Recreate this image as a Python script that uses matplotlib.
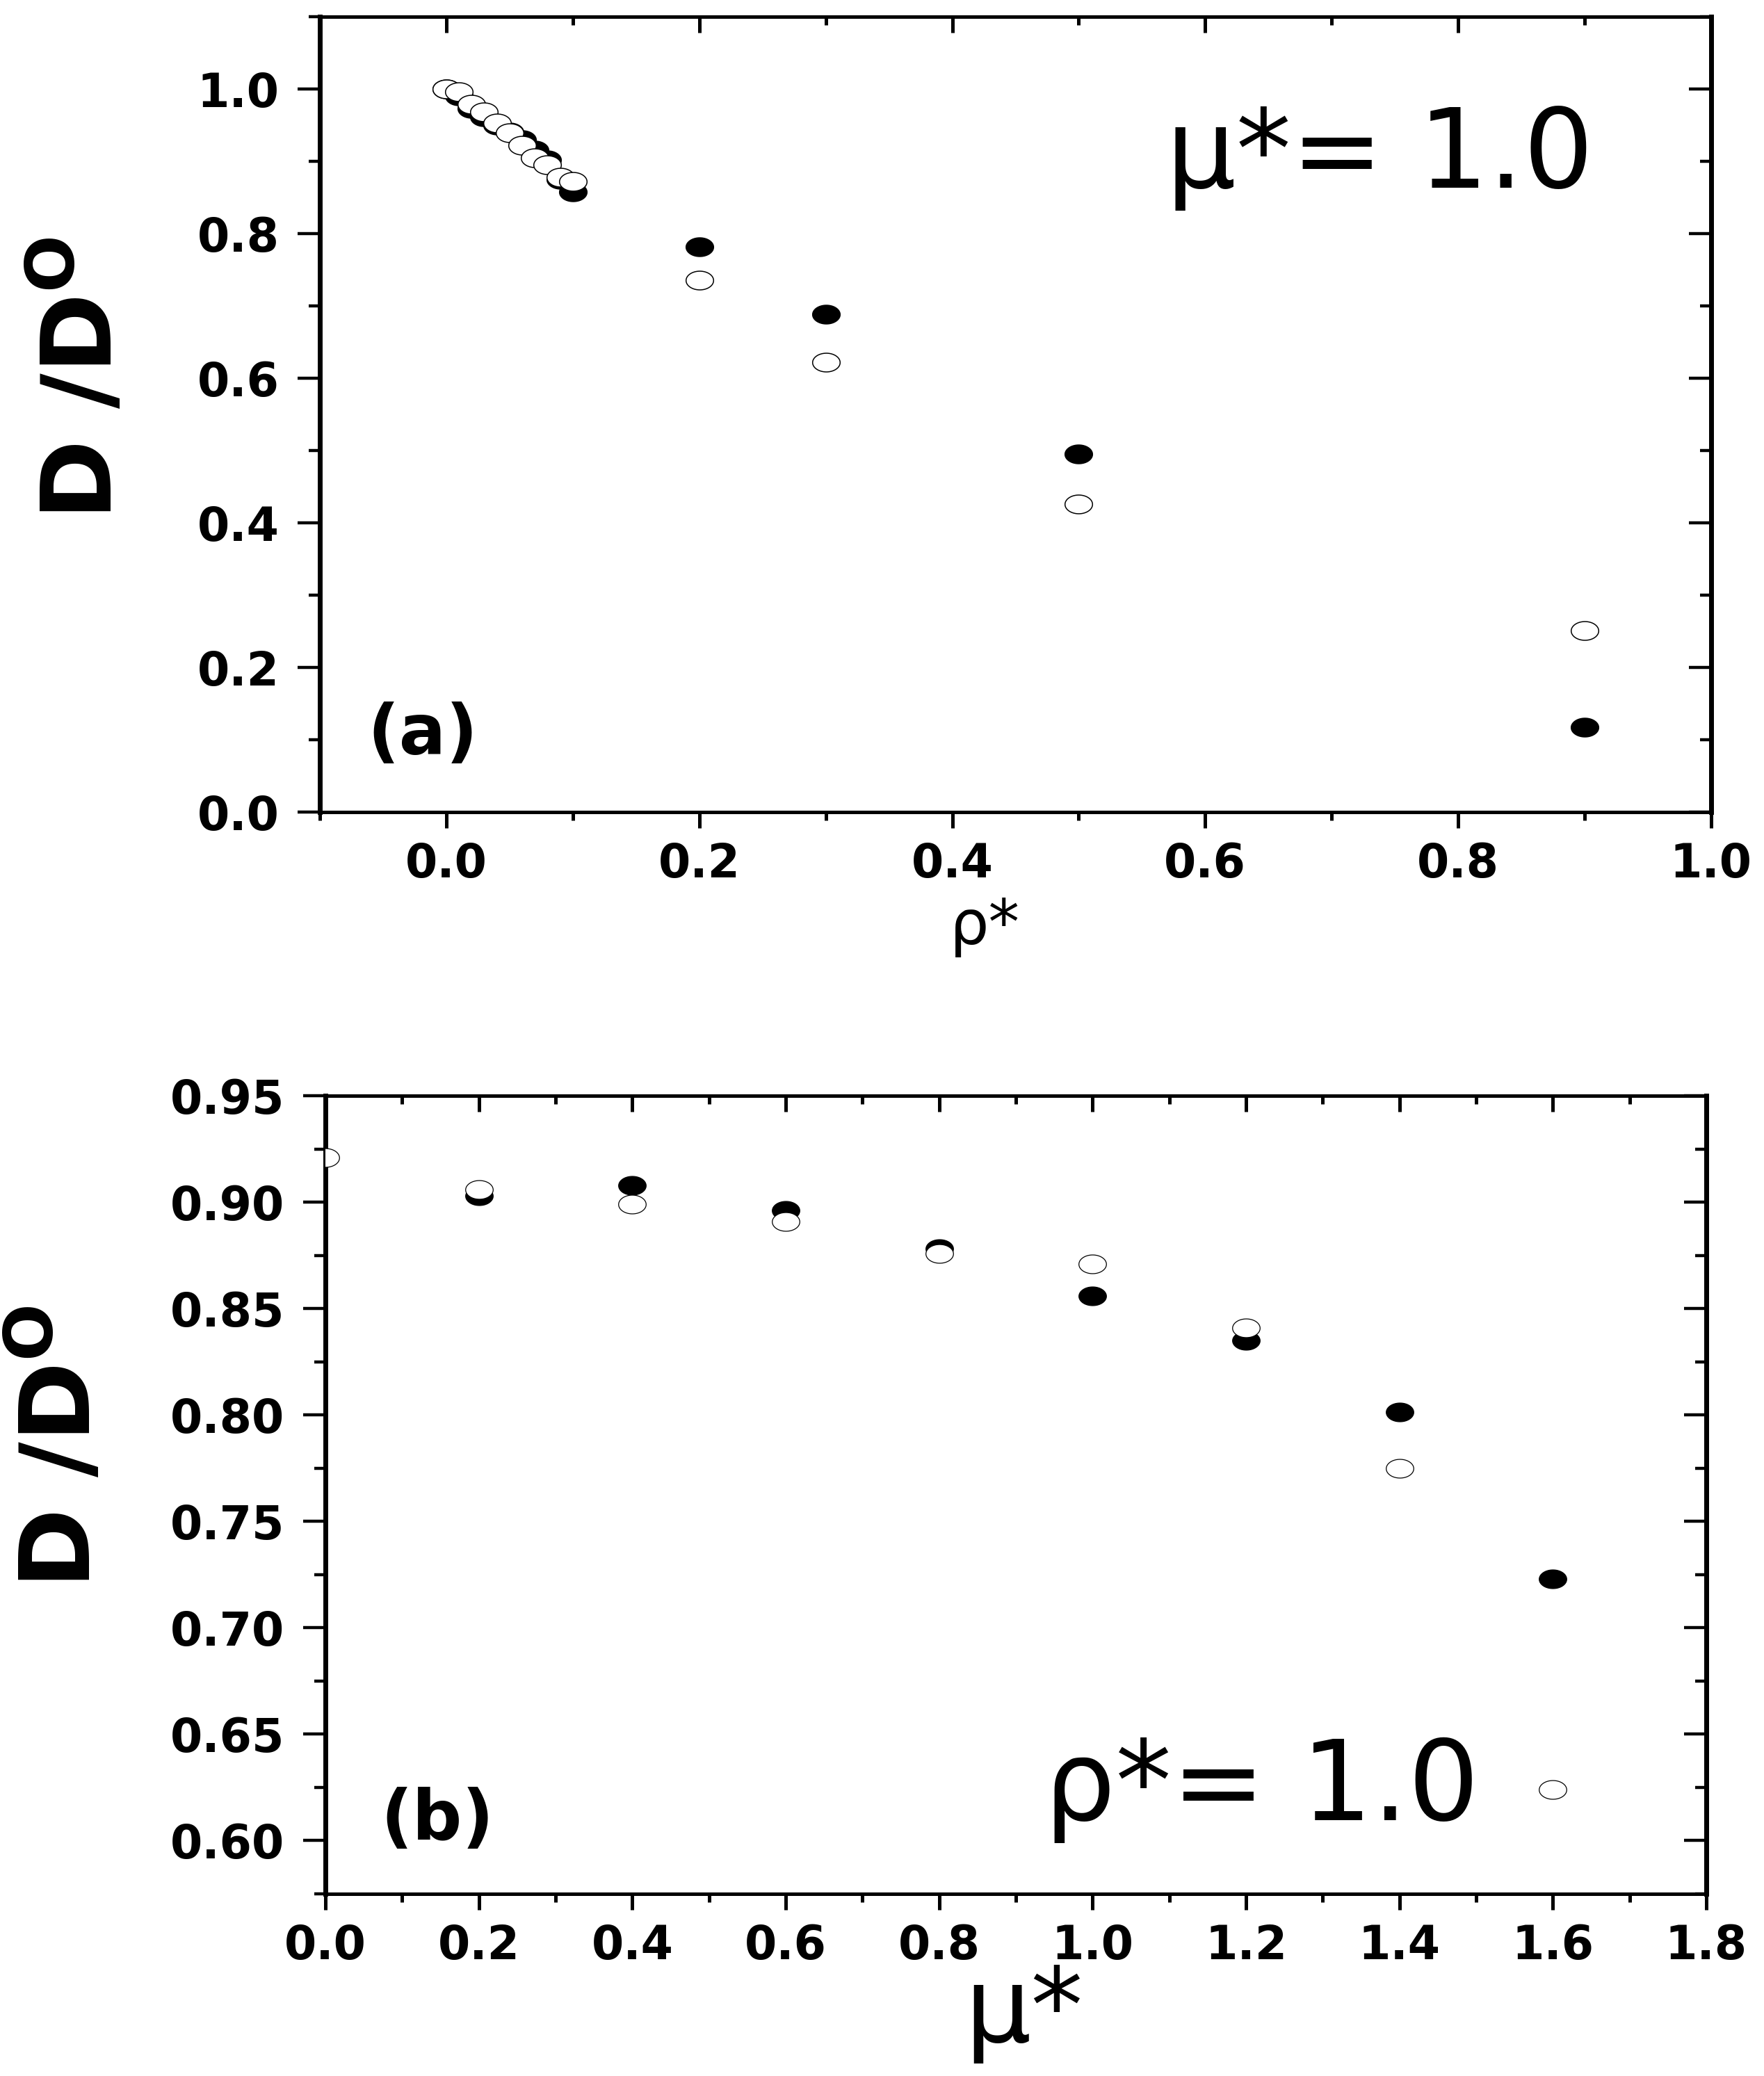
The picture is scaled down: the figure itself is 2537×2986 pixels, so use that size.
import matplotlib
matplotlib.use("Agg")
import matplotlib.pyplot as plt
import numpy as np
from matplotlib.path import Path
from matplotlib.ticker import MultipleLocator, FormatStrFormatter

# ---- data: panel (a), D/D0 vs rho* at mu* = 1.0
rho_a = [0.0, 0.01, 0.02, 0.03, 0.04, 0.05, 0.06, 0.07, 0.08, 0.09, 0.10,
         0.2, 0.3, 0.5, 0.9]
filled_a = [1.000, 0.990, 0.973, 0.962, 0.950, 0.940, 0.930, 0.915, 0.902,
            0.875, 0.858, 0.782, 0.688, 0.495, 0.117]
open_a = [1.000, 0.996, 0.979, 0.968, 0.953, 0.939, 0.922, 0.905, 0.895,
          0.878, 0.872, 0.736, 0.622, 0.426, 0.251]

# ---- data: panel (b), D/D0 vs mu* at rho* = 1.0
mu_b_filled = [0.2, 0.4, 0.6, 0.8, 1.0, 1.2, 1.4, 1.6]
filled_b = [0.903, 0.908, 0.896, 0.878, 0.856, 0.835, 0.8015, 0.723]
mu_b_open = [0.0, 0.2, 0.4, 0.6, 0.8, 1.0, 1.2, 1.4, 1.6]
open_b = [0.921, 0.906, 0.899, 0.891, 0.876, 0.871, 0.841, 0.775, 0.624]

plt.rcParams["font.family"] = ["DejaVu Sans"]
plt.rcParams["mathtext.fontset"] = "custom"
plt.rcParams["mathtext.rm"] = "Liberation Sans Narrow:bold"
plt.rcParams["mathtext.bf"] = "Liberation Sans Narrow:bold"

DPI = 100
fig = plt.figure(figsize=(25.37, 29.86), dpi=DPI)

# Origin-style flattened circle
t = np.linspace(0, 2 * np.pi, 73)
ell = Path(np.column_stack([np.cos(t), 0.68 * np.sin(t)]), closed=True)

ax_a = fig.add_axes([0.18131, 0.60884, 0.78873, 0.38312])
ax_b = fig.add_axes([0.18447, 0.08774, 0.78281, 0.38446])


def style_axes(ax, xmaj, xmin, ymaj, ymin, yfmt):
    for side in ("left", "right"):
        ax.spines[side].set_linewidth(5.0)
    for side in ("top", "bottom"):
        ax.spines[side].set_linewidth(3.6)
    ax.xaxis.set_major_locator(MultipleLocator(xmaj))
    ax.xaxis.set_minor_locator(MultipleLocator(xmin))
    ax.yaxis.set_major_locator(MultipleLocator(ymaj))
    ax.yaxis.set_minor_locator(MultipleLocator(ymin))
    ax.xaxis.set_major_formatter(FormatStrFormatter("%.1f"))
    ax.yaxis.set_major_formatter(FormatStrFormatter(yfmt))
    ax.tick_params(axis="x", which="major", direction="out", length=16.5,
                   width=3.6, pad=13.5, labelsize=48)
    ax.tick_params(axis="x", which="minor", direction="out", length=8.6,
                   width=3.6)
    ax.tick_params(axis="y", which="major", direction="out", length=23,
                   width=3.2, pad=19, labelsize=48)
    ax.tick_params(axis="y", which="minor", direction="out", length=11.5,
                   width=3.2)
    for lab in ax.get_xticklabels() + ax.get_yticklabels():
        lab.set_fontweight("bold")
    # mirrored ticks pointing inward on top and right
    top = ax.secondary_xaxis("top")
    top.xaxis.set_major_locator(MultipleLocator(xmaj))
    top.xaxis.set_minor_locator(MultipleLocator(xmin))
    top.tick_params(which="major", direction="in", length=16.5, width=3.6,
                    labeltop=False)
    top.tick_params(which="minor", direction="in", length=8.6, width=3.6)
    top.spines["top"].set_linewidth(3.6)
    right = ax.secondary_yaxis("right")
    right.yaxis.set_major_locator(MultipleLocator(ymaj))
    right.yaxis.set_minor_locator(MultipleLocator(ymin))
    right.tick_params(which="major", direction="in", length=23, width=3.2,
                      labelright=False)
    right.tick_params(which="minor", direction="in", length=11.5, width=3.2)
    right.spines["right"].set_linewidth(5.0)


# ---- panel (a)
ax_a.plot(rho_a, filled_a, ls="none", marker=ell, ms=28.5, mfc="black",
          mec="black", mew=1.1, zorder=3)
ax_a.plot(rho_a, open_a, ls="none", marker=ell, ms=28.5, mfc="white",
          mec="black", mew=1.1, zorder=4)
ax_a.set_xlim(-0.1, 1.0)
ax_a.set_ylim(0.0, 1.1)
style_axes(ax_a, 0.2, 0.1, 0.2, 0.1, "%.1f")
ax_a.set_xlabel("ρ*", fontsize=64, va="baseline")
ax_a.xaxis.set_label_coords(0.478, -0.166)
ax_a.set_ylabel(r"$\mathrm{D\ /D^{O}}$", fontsize=100, va="center")
ax_a.yaxis.set_label_coords(-0.1704, 0.545)
ax_a.text(0.034, 0.097, "(a)", transform=ax_a.transAxes, fontsize=72,
          fontweight="bold", ha="left", va="center")
ax_a.text(0.608, 0.785, "μ*= 1.0", transform=ax_a.transAxes, fontsize=114,
          ha="left", va="baseline")

# ---- panel (b)
ax_b.plot(mu_b_filled, filled_b, ls="none", marker=ell, ms=28.5, mfc="black",
          mec="black", mew=0.9, zorder=3)
ax_b.plot(mu_b_open, open_b, ls="none", marker=ell, ms=28.5, mfc="white",
          mec="black", mew=0.9, zorder=4)
ax_b.set_xlim(0.0, 1.8)
ax_b.set_ylim(0.575, 0.95)
style_axes(ax_b, 0.2, 0.1, 0.05, 0.025, "%.2f")
ax_b.set_xlabel("μ*", fontsize=108, va="baseline")
ax_b.xaxis.set_label_coords(0.506, -0.1855)
ax_b.set_ylabel(r"$\mathrm{D\ /D^{O}}$", fontsize=100, va="center")
ax_b.yaxis.set_label_coords(-0.1913, 0.56)
ax_b.text(0.04, 0.092, "(b)", transform=ax_b.transAxes, fontsize=72,
          fontweight="bold", ha="left", va="center")
ax_b.text(0.678, 0.092, "ρ*= 1.0", transform=ax_b.transAxes, fontsize=116,
          ha="center", va="baseline", zorder=5)

fig.savefig("out.png", dpi=DPI)
